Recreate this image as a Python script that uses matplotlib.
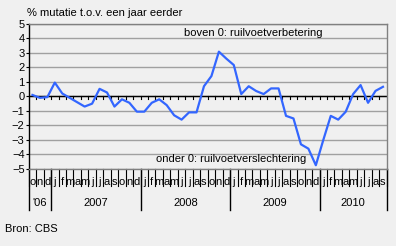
import numpy as np
import matplotlib
matplotlib.use("Agg")
import matplotlib.pyplot as plt
import matplotlib.transforms as mtransforms

plt.rcParams['font.family'] = ['Liberation Sans', 'DejaVu Sans']

# ruilvoet, % mutatie t.o.v. een jaar eerder, okt 2006 - sep 2010
maanden = ['o', 'n', 'd',
           'j', 'f', 'm', 'a', 'm', 'j', 'j', 'a', 's', 'o', 'n', 'd',
           'j', 'f', 'm', 'a', 'm', 'j', 'j', 'a', 's', 'o', 'n', 'd',
           'j', 'f', 'm', 'a', 'm', 'j', 'j', 'a', 's', 'o', 'n', 'd',
           'j', 'f', 'm', 'a', 'm', 'j', 'j', 'a', 's']
jaren = ["'06", '2007', '2008', '2009', '2010']
maanden_per_jaar = [3, 12, 12, 12, 9]
mutatie = [0.1, -0.1, -0.05,
           0.95, 0.2, -0.1, -0.4, -0.7, -0.5, 0.52, 0.27, -0.7, -0.2, -0.44, -1.05,
           -1.05, -0.44, -0.2, -0.6, -1.3, -1.6, -1.1, -1.1, 0.7, 1.4, 3.08, 2.6,
           2.16, 0.16, 0.7, 0.37, 0.16, 0.55, 0.55, -1.34, -1.52, -3.3, -3.6, -4.74,
           -3.0, -1.34, -1.6, -1.06, 0.16, 0.78, -0.44, 0.38, 0.66]

bg = '#f0f0f0'
fs = 8
fig = plt.figure(figsize=(3.96, 2.46), dpi=100, facecolor=bg)
ax = fig.add_axes([28.7 / 396, 1 - 169 / 246, 358 / 396, 145.2 / 246])
ax.set_facecolor(bg)

x = np.arange(len(mutatie))
ax.set_xlim(-0.5, len(mutatie) - 0.5)
ax.set_ylim(-5, 5)
ax.set_yticks(range(-5, 6))
ax.yaxis.grid(True, color='#a0a0a0', linewidth=1.0)
ax.set_axisbelow(True)
ax.set_xticks([])
ax.tick_params(axis='y', length=2, width=0.8, pad=1, labelsize=fs)

for side in ['top', 'right', 'bottom']:
    ax.spines[side].set_color('#808080')
    ax.spines[side].set_linewidth(1.0)
ax.spines['left'].set_linewidth(1.0)

# nullijn met streepjes
ax.axhline(0, color='black', linewidth=1.0, zorder=2)
for b in np.arange(0.5, len(mutatie) - 0.5):
    ax.plot([b, b], [0, -0.2], color='black', linewidth=0.8, zorder=2)

ax.plot(x, mutatie, color='#3366ff', linewidth=1.6, zorder=3)

ax.text(20.35, 4.37, 'boven 0: ruilvoetverbetering', fontsize=fs, va='center')
ax.text(16.6, -4.32, 'onder 0: ruilvoetverslechtering', fontsize=fs, va='center')

# maand- en jaarlabels onder de as
trans = mtransforms.blended_transform_factory(ax.transData, ax.transAxes)
for i, m in enumerate(maanden):
    ax.text(i, -0.09, m, transform=trans, ha='center', va='center',
            fontsize=fs, clip_on=False)
for b in np.arange(-0.5, len(mutatie)):
    ax.plot([b, b], [0, -0.117], transform=trans, color='black',
            linewidth=0.8, clip_on=False)

grens = -0.5
for jaar, n in zip(jaren, maanden_per_jaar):
    ax.plot([grens, grens], [0, -0.282], transform=trans, color='black',
            linewidth=1.0, clip_on=False)
    ax.text(grens + n / 2, -0.232, jaar, transform=trans, ha='center',
            va='center', fontsize=fs, clip_on=False)
    grens += n
ax.plot([grens, grens], [0, -0.282], transform=trans, color='black',
        linewidth=1.0, clip_on=False)

fig.text(27 / 396, 1 - 13 / 246, '% mutatie t.o.v. een jaar eerder',
         fontsize=fs, va='center')
fig.text(5 / 396, 1 - 229 / 246, 'Bron: CBS', fontsize=fs, va='center')

fig.savefig('out.png', dpi=100, facecolor=bg)
